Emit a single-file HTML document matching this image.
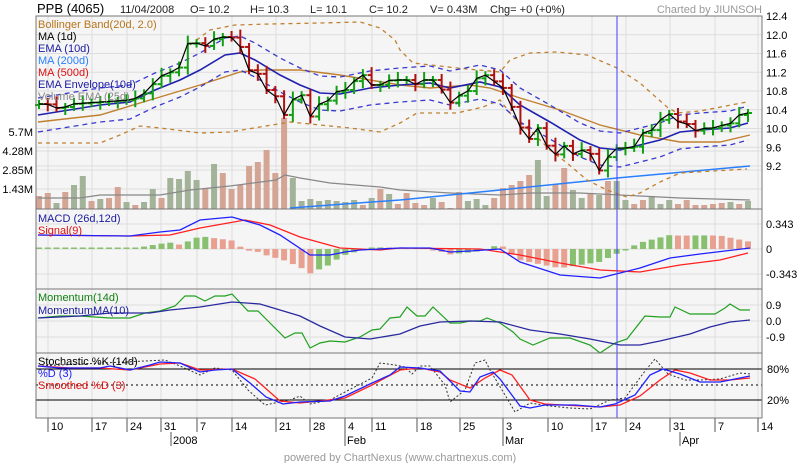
<!DOCTYPE html>
<html><head><meta charset="utf-8"><style>
html,body{margin:0;padding:0;background:#fff;}
svg{display:block;font-family:"Liberation Sans",sans-serif;}
</style></head><body>
<svg id="s" width="800" height="463" xmlns="http://www.w3.org/2000/svg">
<rect x="0" y="0" width="800" height="463" fill="#fff"/>
<g id="bg"></g>
<g id="g"></g>
<g font-size="11">
<text x="37" y="13" font-size="13" fill="#000">PPB (4065)</text>
<text x="120" y="13" fill="#222">11/04/2008</text>
<text x="190" y="13" fill="#222">O= 10.2</text>
<text x="250" y="13" fill="#222">H= 10.3</text>
<text x="310" y="13" fill="#222">L= 10.1</text>
<text x="369" y="13" fill="#222">C= 10.2</text>
<text x="430" y="13" fill="#222">V= 0.43M</text>
<text x="490" y="13" fill="#222">Chg= +0 (+0%)</text>
<text x="762" y="13" fill="#999" text-anchor="end">Charted by JIUNSOH</text>
<g id="leg"></g>
<text x="400" y="461" fill="#999" text-anchor="middle" font-size="11">powered by ChartNexus (www.chartnexus.com)</text>
</g>
</svg>
<script>
const NS="http://www.w3.org/2000/svg";
const G=document.getElementById('g'),BG=document.getElementById('bg'),LEG=document.getElementById('leg');
function el(p,t,a,txt){const e=document.createElementNS(NS,t);for(const k in a)e.setAttribute(k,a[k]);if(txt!==undefined)e.textContent=txt;p.appendChild(e);return e;}
function interp(pts,x){if(x<=pts[0][0])return pts[0][1];for(let i=1;i<pts.length;i++){if(x<=pts[i][0]){const a=pts[i-1],b=pts[i];return a[1]+(b[1]-a[1])*(x-a[0])/(b[0]-a[0]);}}return pts[pts.length-1][1];}
function poly(pts,c,w,dash){el(G,'polyline',{points:pts.map(p=>p.join(',')).join(' '),fill:'none',stroke:c,'stroke-width':w||1.2,'stroke-dasharray':dash||'none'});}
const L=36,R=762;
// panels
const panels=[[16,209],[209,289],[289,353],[353,418]];
panels.forEach(p=>el(BG,'rect',{x:L,y:p[0],width:R-L,height:p[1]-p[0],fill:'#f5f5f5'}));
const ticks=[[48,'10'],[92,'17'],[127,'24'],[161,'31'],[197,'7'],[232,'14'],[276,'21'],[310,'28'],[345,'4'],[372,'11'],[417,'18'],[460,'25'],[503,'3'],[548,'10'],[592,'17'],[626,'24'],[670,'31'],[715,'7'],[758,'14']];
ticks.forEach(t=>{if(t[0]<R)el(BG,'line',{x1:t[0],y1:16,x2:t[0],y2:418,stroke:'#ddd'});el(BG,'line',{x1:t[0],y1:418,x2:t[0],y2:432,stroke:'#555'});el(BG,'text',{x:t[0]+3,y:430,'font-size':'11',fill:'#000'},t[1]);});
[[171,'2008'],[345,'Feb'],[503,'Mar'],[680,'Apr']].forEach(t=>{el(BG,'line',{x1:t[0],y1:432,x2:t[0],y2:446,stroke:'#555'});el(BG,'text',{x:t[0]+2,y:444,'font-size':'11',fill:'#000'},t[1]);});
// price grid
const py=p=>16+(12.4-p)*46.875;
[12.4,12.0,11.6,11.2,10.8,10.4,10.0,9.6,9.2].forEach(p=>{const y=py(p);el(BG,'line',{x1:L,y1:y,x2:R,y2:y,stroke:'#ddd'});el(BG,'text',{x:766,y:y+4,'font-size':'11'},p.toFixed(1));});
[[132,'5.7M'],[151,'4.28M'],[170,'2.85M'],[189,'1.43M']].forEach(v=>{el(BG,'line',{x1:L,y1:v[0],x2:R,y2:v[0],stroke:'#ddd'});el(BG,'text',{x:33,y:v[0]+4,'font-size':'11','text-anchor':'end'},v[1]);});
[[224,'0.343'],[249,'0'],[274,'-0.343']].forEach(v=>{el(BG,'line',{x1:L,y1:v[0],x2:R,y2:v[0],stroke:'#ddd'});el(BG,'text',{x:766,y:v[0]+4,'font-size':'11'},v[1]);});
[[305,'0.9'],[321,'0.0'],[337,'-0.9']].forEach(v=>{el(BG,'line',{x1:L,y1:v[0],x2:R,y2:v[0],stroke:'#ddd'});el(BG,'text',{x:766,y:v[0]+4,'font-size':'11'},v[1]);});
el(BG,'text',{x:767,y:373,'font-size':'11'},'80%');el(BG,'text',{x:767,y:404,'font-size':'11'},'20%');
// volume
const vol=[[196,0],[193,0],[203,1],[192,0],[185,1],[176,1],[201,0],[199,1],[198,0],[187,0],[202,1],[205,0],[202,1],[189,1],[198,0],[178,1],[179,1],[171,1],[180,1],[188,0],[164,1],[173,0],[189,0],[185,0],[166,0],[162,0],[150,0],[173,0],[118,0],[178,1],[201,1],[199,1],[201,1],[200,1],[201,1],[202,1],[200,1],[205,0],[198,1],[189,0],[194,1],[204,0],[193,0],[203,0],[205,0],[198,1],[202,0],[208,0],[192,0],[201,1],[199,1],[205,1],[198,0],[188,0],[185,0],[181,0],[175,0],[160,1],[196,1],[184,0],[168,0],[190,1],[198,1],[194,0],[195,1],[181,0],[181,1],[200,1],[204,0],[200,0],[196,1],[204,1],[200,1],[204,0],[200,0],[205,0],[205,0],[204,0],[203,0],[202,1],[204,0],[201,1],[203,0]];
const N=82,sp=(748-39)/(N-1),bx=i=>39+i*sp;
for(let i=0;i<N;i++){const v=vol[i]||[204,0];el(G,'rect',{x:bx(i)-3,y:v[0],width:6,height:209-v[0],fill:v[1]?'#a3b39a':'#d4a595'});}
poly([[38,198],[80,198],[100,195],[160,195],[190,190],[230,186],[276,180],[285,175],[300,178],[330,183],[380,187],[400,190],[450,193],[500,195],[530,193],[580,193],[620,195],[680,198],[750,200]],'#888',1.2);
poly([[290,208],[400,200],[500,190],[617,178],[750,166]],'#2a7fff',1.5);
// bollinger
const bu=[[190,45],[210,30],[235,25],[270,24],[320,23],[360,22],[380,28],[395,40],[400,50],[413,63],[457,68],[500,72],[510,60],[530,53],[557,52],[587,55],[617,68],[640,83],[667,107],[677,113],[700,111],[747,102]];
const bl=[[38,143],[100,143],[120,135],[140,126],[160,128],[200,133],[230,132],[260,127],[290,122],[320,125],[350,128],[380,132],[400,123],[417,113],[457,113],[483,107],[500,100],[513,117],[533,133],[550,150],[567,163],[587,180],[607,190],[627,197],[640,193],[660,182],[680,173],[747,169]];
const bm=[[38,122],[100,115],[150,100],[200,85],[240,72],[260,70],[300,70],[340,75],[400,85],[430,88],[470,85],[490,88],[520,98],[560,110],[600,125],[640,135],[680,142],[720,142],[750,135]];
poly(bu,'#c08030',1.3,'4,4');poly(bl,'#c08030',1.3,'4,4');poly(bm,'#c08030',1.4);
const ema=[[38,115],[100,105],[130,102],[155,90],[180,80],[200,70],[225,55],[240,53],[255,60],[280,75],[300,85],[320,93],[340,94],[370,88],[400,85],[430,83],[450,88],[480,82],[500,87],[520,105],[550,122],[580,140],[600,148],[620,150],[640,145],[660,140],[680,132],[700,130],[730,128],[748,123]];
poly(ema.map(p=>[p[0],p[1]-17]),'#3a3ad0',1.3,'5,4');poly(ema.map(p=>[p[0],p[1]+17]),'#3a3ad0',1.3,'5,4');
poly(ema,'#2020b0',1.6);
// close
const cl=[[38,104],[47,104],[55,108],[63,108],[72,104],[130,100],[140,97],[150,88],[158,77],[167,74],[175,70],[180,67],[186,44],[195,42],[203,48],[212,40],[220,37],[230,37],[238,40],[248,70],[257,72],[265,90],[273,90],[283,117],[292,100],[302,95],[310,117],[320,103],[330,100],[338,90],[347,90],[355,80],[363,75],[371,85],[380,85],[390,80],[407,80],[414,85],[423,80],[433,80],[442,90],[450,103],[460,95],[470,90],[478,76],[487,75],[496,83],[503,88],[508,98],[520,127],[530,140],[538,128],[546,145],[556,155],[565,145],[573,154],[582,150],[590,153],[600,172],[608,157],[617,148],[625,148],[634,147],[643,133],[652,130],[662,118],[671,113],[680,124],[688,124],[697,132],[705,128],[714,128],[723,125],[732,123],[741,113],[748,113]];
const C=[];for(let i=0;i<N;i++)C.push(interp(cl,bx(i)));
for(let i=0;i<N;i++){const o=i?C[i-1]:C[i]+1,c=C[i];const up=c<=o;const hi=Math.min(o,c)-4-(i%3)*2,lo=Math.max(o,c)+4+(i%2)*3;const col=up?'#11a011':'#b01010';
el(G,'line',{x1:bx(i),y1:hi,x2:bx(i),y2:lo,stroke:col,'stroke-width':2});el(G,'line',{x1:bx(i)-4,y1:o,x2:bx(i),y2:o,stroke:col,'stroke-width':2});el(G,'line',{x1:bx(i),y1:c,x2:bx(i)+4,y2:c,stroke:col,'stroke-width':2});}
poly(C.map((c,i)=>[bx(i),c]),'#000',1.2);
// legend
[['Bollinger Band(20d, 2.0)','#b8741a'],['MA (1d)','#000'],['EMA (10d)','#1a1aa0'],['MA (200d)','#2a7fff'],['MA (500d)','#e01010'],['EMA Envelope(10d)','#1a1aa0'],['Volume EMA (25d)','#888']].forEach((l,i)=>el(LEG,'text',{x:38,y:28+i*12,fill:l[1]},l[0]));
// MACD
const macd=[[38,235],[130,236],[160,232],[180,230],[200,220],[232,217],[260,225],[280,235],[310,255],[330,255],[345,252],[360,250],[400,248],[430,248],[450,252],[470,251],[500,249],[520,262],[560,275],[600,278],[620,273],[640,268],[670,258],[700,254],[750,248]];
const sig=[[38,235],[130,236],[170,235],[200,228],[245,220],[270,225],[300,237],[340,248],[380,250],[400,248],[480,249],[520,255],[560,263],[600,270],[640,272],[680,265],[720,260],[748,253]];
let prev=0;for(let i=0;i<N;i++){const x=bx(i);const h=(interp(sig,x)-interp(macd,x))*1.6;const inc=h>=prev;prev=h;const hh=Math.max(Math.abs(h),1.5);el(G,'rect',{x:x-3,y:h>=0?249-hh:249,width:6,height:hh,fill:inc?'#88c070':'#e8a090'});}
poly(sig,'#ff2020',1.3);poly(macd,'#2020ff',1.3);
el(LEG,'text',{x:38,y:222,fill:'#1a1aa0'},'MACD (26d,12d)');el(LEG,'text',{x:38,y:234,fill:'#e01010'},'Signal(9)');
// momentum
poly([[38,318],[60,316],[80,316],[110,318],[130,318],[145,313],[160,311],[175,306],[185,296],[195,296],[205,301],[215,296],[225,296],[232,294],[248,311],[258,311],[268,321],[285,338],[295,333],[302,333],[310,348],[320,343],[330,341],[345,342],[360,337],[372,330],[380,329],[390,318],[400,317],[407,307],[417,316],[425,316],[433,307],[450,323],[460,323],[470,321],[480,321],[487,318],[500,323],[513,332],[520,339],[533,345],[550,338],[570,338],[590,345],[600,353],[615,343],[627,339],[645,316],[660,317],[670,317],[675,307],[690,314],[700,314],[715,314],[725,308],[730,304],[740,310],[750,310]],'#20a020',1.2);
poly([[38,318],[80,316],[110,313],[150,313],[170,310],[200,307],[232,302],[260,304],[280,310],[300,316],[320,326],[345,337],[370,339],[400,334],[420,326],[440,322],[470,321],[500,322],[530,330],[560,334],[590,339],[620,345],[640,345],[660,341],[690,334],[710,327],[730,322],[750,320]],'#2a2aa0',1.3);
el(LEG,'text',{x:38,y:301,fill:'#108010'},'Momentum(14d)');el(LEG,'text',{x:38,y:314,fill:'#1a1aa0'},'MomentumMA(10)');
// stochastic
el(G,'line',{x1:L,y1:369,x2:R,y2:369,stroke:'#000'});el(G,'line',{x1:L,y1:400,x2:R,y2:400,stroke:'#000'});el(G,'line',{x1:L,y1:385,x2:R,y2:385,stroke:'#000','stroke-dasharray':'2,3'});
poly([[38,366],[145,361],[165,360],[180,366],[200,375],[215,368],[232,370],[248,390],[265,405],[290,400],[300,396],[310,404],[330,400],[345,392],[372,378],[380,363],[395,365],[405,367],[412,374],[420,366],[430,366],[445,385],[450,402],[465,390],[475,363],[485,360],[490,370],[505,395],[515,412],[530,403],[550,406],[570,408],[590,409],[610,400],[625,398],[645,371],[655,359],[668,374],[685,380],[700,380],[720,379],[740,373],[750,374]],'#333',1,'2,2');
poly([[38,366],[70,368],[100,368],[130,370],[160,364],[180,363],[200,370],[232,369],[255,379],[280,401],[300,403],[320,401],[345,398],[372,385],[400,370],[420,368],[440,372],[450,380],[470,388],[485,378],[500,370],[512,375],[530,400],[545,404],[600,407],[620,405],[640,396],[660,380],[675,370],[690,373],[710,380],[730,380],[750,378]],'#ff2020',1.3);
poly([[38,366],[60,368],[100,368],[110,366],[130,370],[150,365],[160,362],[180,363],[200,372],[215,370],[232,369],[250,383],[266,397],[283,404],[300,402],[330,401],[345,396],[372,383],[390,375],[400,367],[420,368],[440,371],[460,391],[470,392],[480,377],[493,372],[500,379],[520,406],[530,408],[545,405],[575,405],[600,407],[615,404],[635,395],[650,375],[663,369],[680,374],[700,382],[720,382],[750,376]],'#2020ff',1.3);
el(LEG,'text',{x:38,y:365,fill:'#000'},'Stochastic %K (14d)');el(LEG,'text',{x:38,y:377,fill:'#2020ff'},'%D (3)');el(LEG,'text',{x:38,y:389,fill:'#e01010'},'Smoothed %D (3)');
// vertical cursor
el(G,'line',{x1:617,y1:16,x2:617,y2:418,stroke:'#4040ff','stroke-width':1});
// borders
panels.forEach(p=>el(G,'rect',{x:L,y:p[0],width:R-L,height:p[1]-p[0],fill:'none',stroke:'#777'}));
</script>
</body></html>
